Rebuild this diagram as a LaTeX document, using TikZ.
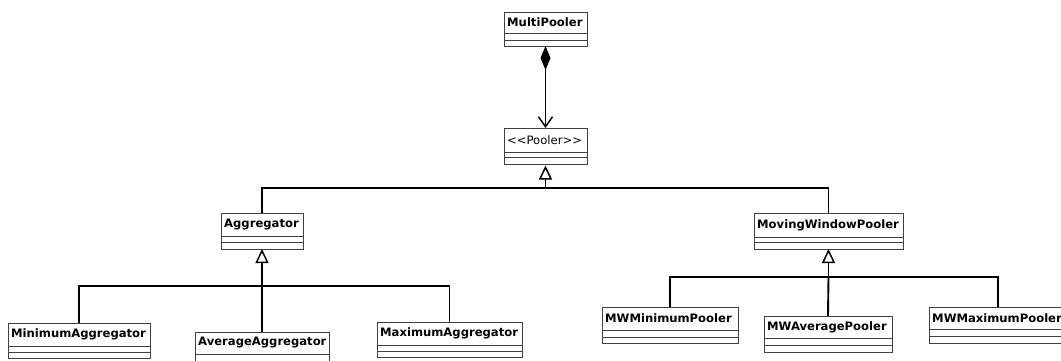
\documentclass[tikz,border=0pt]{standalone}
\usepackage{fontspec}
\setmainfont{DejaVu Sans}
\usetikzlibrary{arrows.meta}

% UML class box: whole box is node #2, name compartment text is node #2-name
% #1 font, #2 name, #3 left, #4 top, #5 right, #6 bottom, #7 first rule, #8 second rule, #9 label
\newcommand\umlclass[9][\bfseries]{%
  \node[classbox, minimum width={(#5-#3)*1pt}, minimum height={(#6-#4)*1pt}]
    (#2) at (#3,#4) {};
  \draw[classrule] (#2.west |- 0,#7) -- (#2.east |- 0,#7);
  \draw[classrule] (#2.west |- 0,#8) -- (#2.east |- 0,#8);
  \node[classname, font=\fontsize{11.6}{13}\selectfont#1] (#2-name)
    at ({#3+3},{(#4+#7)/2}) {#9};
}

\begin{document}
\begin{tikzpicture}[x=1pt, y=-1pt,
  classbox/.style={draw=black!75, line width=1pt, fill=white, anchor=north west,
    inner sep=0pt, outer sep=0pt},
  classrule/.style={draw=black!75, line width=1pt},
  classname/.style={anchor=west, inner sep=0pt, text=black},
  link/.style={draw=black, line width=1.9pt},
  generalize/.style={link, -{Triangle[open, length=14pt, width=13pt, line width=1.5pt, fill=white]}},
  compose/.style={link, {Diamond[length=24pt, width=10pt]}-{Straight Barb[length=10pt, width=14pt, line width=1.5pt]}}
]
\useasboundingbox (0,0) rectangle (1061,360);
\clip (0,0) rectangle (1061,360);
\fill[white] (0,0) rectangle (1061,360);

% classes
\umlclass{MultiPooler}{504}{12}{587}{46}{33}{40}{MultiPooler}
\umlclass[\mdseries]{Pooler}{504}{128}{587}{164}{152}{157}{<{}<Pooler>{}>}
\umlclass{Aggregator}{221}{213}{303}{249}{236}{242}{Aggregator}
\umlclass{MovingWindowPooler}{754}{213}{903}{249}{237}{242}{MovingWindowPooler}
\umlclass{MinimumAggregator}{8}{323}{150}{358}{346}{352}{MinimumAggregator}
\umlclass{AverageAggregator}{195}{332}{329}{368}{354}{361}{AverageAggregator}
\umlclass{MaximumAggregator}{377}{322}{522}{357}{345}{351}{MaximumAggregator}
\umlclass{MWMinimumPooler}{602}{307}{738}{343}{330}{337}{MWMinimumPooler}
\umlclass{MWAveragePooler}{764}{316}{892}{352}{338}{345}{MWAveragePooler}
\umlclass{MWMaximumPooler}{929}{307}{1067}{343}{329}{336}{MWMaximumPooler}

% junction points of the inheritance trees
\coordinate (poolerJoin) at (545.5,188);
\coordinate (aggJoin) at (262,286);
\coordinate (mwJoin) at (828.5,277);

% composition
\draw[compose] (MultiPooler.south) -- (Pooler.north);

% Pooler hierarchy
\draw[link] (Aggregator.north) |- (poolerJoin);
\draw[link] (MovingWindowPooler.north) |- (poolerJoin);
\draw[generalize, shorten >=1.5pt] (poolerJoin) -- (Pooler.south);

% Aggregator hierarchy
\draw[link] (MinimumAggregator.north) |- (aggJoin);
\draw[link] (MaximumAggregator.north) |- (aggJoin);
\draw[link] (AverageAggregator.north) -- (aggJoin);
\draw[generalize] (aggJoin) -- (Aggregator.south);

% MovingWindowPooler hierarchy
\draw[link] (MWMinimumPooler.north) |- (mwJoin);
\draw[link] (MWMaximumPooler.north) |- (mwJoin);
\draw[link] (MWAveragePooler.north) -- (mwJoin);
\draw[generalize] (mwJoin) -- (MovingWindowPooler.south);
\end{tikzpicture}
\end{document}
